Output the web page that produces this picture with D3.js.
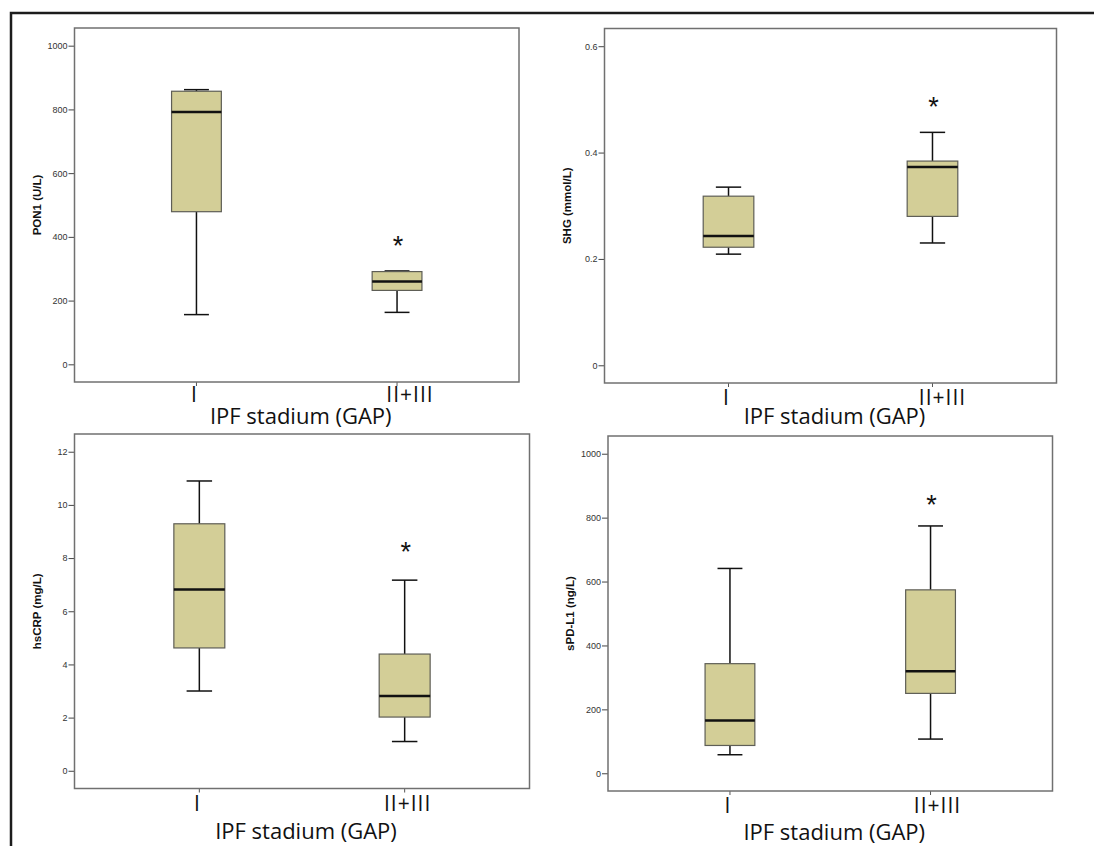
<!DOCTYPE html>
<html>
<head>
<meta charset="utf-8">
<script src="https://cdn.jsdelivr.net/npm/d3@7"></script>
<style>
  body { margin: 0; background: #fff; }
  svg { display: block; }
  .tick-y text { font-family: "Liberation Sans", Arial, sans-serif; font-size: 9px; fill: #333; }
  .ylabel { font-family: "Liberation Sans", Arial, sans-serif; font-size: 11.5px; font-weight: bold; fill: #111; }
  .xcat { font-family: "Open Sans", "DejaVu Sans", sans-serif; font-size: 21px; fill: #111; letter-spacing: 1px; }
  .xtitle { font-family: "Open Sans", "Noto Sans", sans-serif; font-size: 22px; fill: #111; }
  .star { font-family: "Liberation Sans", Arial, sans-serif; font-size: 27px; fill: #111; }
</style>
</head>
<body>
<div class="svgContainer"></div>
<script>
var w = 1094;
var h = 846;

// data
var categories = ["I", "II+III"];
var yLabels = ["PON1 (U/L)", "SHG (mmol/L)", "hsCRP (mg/L)", "sPD-L1 (ng/L)"];
var xTitle = "IPF stadium (GAP)";

var pon1Ticks = [0, 200, 400, 600, 800, 1000];
var shgTicks = [0, 0.2, 0.4, 0.6];
var crpTicks = [0, 2, 4, 6, 8, 10, 12];
var pdl1Ticks = [0, 200, 400, 600, 800, 1000];

// [lower whisker, Q1, median, Q3, upper whisker] for I and II+III
var pon1Stats = [[156, 479, 792, 857, 862], [163, 232, 260, 291, 293]];
var shgStats = [[0.209, 0.222, 0.243, 0.318, 0.335], [0.230, 0.280, 0.373, 0.384, 0.438]];
var crpStats = [[3.0, 4.62, 6.82, 9.29, 10.9], [1.10, 2.02, 2.81, 4.39, 7.17]];
var pdl1Stats = [[58, 87, 165, 343, 641], [107, 250, 319, 574, 774]];

// significance star height (on II+III)
var starValues = [376, 0.487, 8.28, 842];

var yDomains = [[-55.5, 1055.5], [-0.0333, 0.6333], [-0.667, 12.667], [-55.5, 1055.5]];

// layout of the four plot boxes
var panels = [
  { left: 74.5, right: 519, top: 28, bottom: 382, catY: 20, titleY: 42, dx2: 13 },
  { left: 604.5, right: 1056.5, top: 28.5, bottom: 383, catY: 22, titleY: 41, dx2: 10 },
  { left: 74.5, right: 529.5, top: 434, bottom: 788.5, catY: 22, titleY: 50, dx2: 3 },
  { left: 608, right: 1052.5, top: 436, bottom: 791, catY: 22, titleY: 49, dx2: 7 }
];

var allTicks = [pon1Ticks, shgTicks, crpTicks, pdl1Ticks];
var allStats = [pon1Stats, shgStats, crpStats, pdl1Stats];

var svg = d3.select(".svgContainer")
            .append("svg")
            .attr("width", w)
            .attr("height", h);

// outer frame (top + left edges only)
svg.append("path")
   .attr("d", "M11,846V13H1094")
   .attr("fill", "none")
   .attr("stroke", "#1c1c1c")
   .attr("stroke-width", 2.5);

panels.forEach(function (p, k) {
  var g = svg.append("g");
  var bw = (p.right - p.left) * 0.112;

  var xScale = d3.scalePoint()
                 .domain(categories)
                 .range([p.left, p.right])
                 .padding(0.608);

  var yScale = d3.scaleLinear()
                 .domain(yDomains[k])
                 .range([p.bottom, p.top]);

  // y axis ticks
  var yAxis = d3.axisLeft(yScale)
                .tickValues(allTicks[k])
                .tickSize(6)
                .tickPadding(1)
                .tickFormat(function (d) { return String(d); });

  var ya = g.append("g")
            .attr("class", "tick-y")
            .attr("transform", "translate(" + p.left + ",0)")
            .call(yAxis);
  ya.select(".domain").remove();
  ya.selectAll("line").attr("stroke", "#444").attr("stroke-width", 1);

  // x axis small ticks
  g.selectAll(".xt")
   .data(categories)
   .enter()
   .append("line")
   .attr("x1", function (d) { return xScale(d); })
   .attr("x2", function (d) { return xScale(d); })
   .attr("y1", p.bottom)
   .attr("y2", p.bottom + 4)
   .attr("stroke", "#555");

  // plot frame
  g.append("rect")
   .attr("x", p.left)
   .attr("y", p.top)
   .attr("width", p.right - p.left)
   .attr("height", p.bottom - p.top)
   .attr("fill", "none")
   .attr("stroke", "#707070")
   .attr("stroke-width", 1.5);

  var boxes = g.selectAll(".box")
               .data(allStats[k])
               .enter()
               .append("g")
               .attr("class", "box");

  var cx = function (d, i) { return xScale(categories[i]); };

  // whiskers
  boxes.append("line")
       .attr("x1", cx).attr("x2", cx)
       .attr("y1", function (d) { return yScale(d[3]); })
       .attr("y2", function (d) { return yScale(d[4]); })
       .attr("stroke", "#111").attr("stroke-width", 1.5);
  boxes.append("line")
       .attr("x1", cx).attr("x2", cx)
       .attr("y1", function (d) { return yScale(d[1]); })
       .attr("y2", function (d) { return yScale(d[0]); })
       .attr("stroke", "#111").attr("stroke-width", 1.5);

  // caps
  [0, 4].forEach(function (j) {
    boxes.append("line")
         .attr("x1", function (d, i) { return cx(d, i) - bw / 4; })
         .attr("x2", function (d, i) { return cx(d, i) + bw / 4; })
         .attr("y1", function (d) { return yScale(d[j]); })
         .attr("y2", function (d) { return yScale(d[j]); })
         .attr("stroke", "#111").attr("stroke-width", 1.5);
  });

  boxes.append("rect")
       .attr("x", function (d, i) { return cx(d, i) - bw / 2; })
       .attr("y", function (d) { return yScale(d[3]); })
       .attr("width", bw)
       .attr("height", function (d) { return yScale(d[1]) - yScale(d[3]); })
       .attr("fill", "#d3ce97")
       .attr("stroke", "#5e5e56")
       .attr("stroke-width", 1.2);

  boxes.append("line")
       .attr("x1", function (d, i) { return cx(d, i) - bw / 2; })
       .attr("x2", function (d, i) { return cx(d, i) + bw / 2; })
       .attr("y1", function (d) { return yScale(d[2]); })
       .attr("y2", function (d) { return yScale(d[2]); })
       .attr("stroke", "#111").attr("stroke-width", 2.5);

  // star above II+III
  g.append("text")
   .attr("class", "star")
   .attr("x", xScale(categories[1]) + 1)
   .attr("y", yScale(starValues[k]) + 10)
   .attr("text-anchor", "middle")
   .text("*");

  // y label
  var ymid = (p.top + p.bottom) / 2;
  g.append("text")
   .attr("class", "ylabel")
   .attr("transform", "translate(" + (p.left - 34) + "," + ymid + ") rotate(-90)")
   .attr("text-anchor", "middle")
   .text(yLabels[k]);

  // category labels
  g.selectAll(".xcat")
   .data(categories)
   .enter()
   .append("text")
   .attr("class", "xcat")
   .attr("x", function (d, i) { return xScale(d) + (i === 1 ? p.dx2 : -2); })
   .attr("y", p.bottom + p.catY)
   .attr("text-anchor", "middle")
   .text(function (d) { return d; });

  g.append("text")
   .attr("class", "xtitle")
   .attr("x", (p.left + p.right) / 2 + 4)
   .attr("y", p.bottom + p.titleY)
   .attr("text-anchor", "middle")
   .text(xTitle);
});
</script>
</body>
</html>
